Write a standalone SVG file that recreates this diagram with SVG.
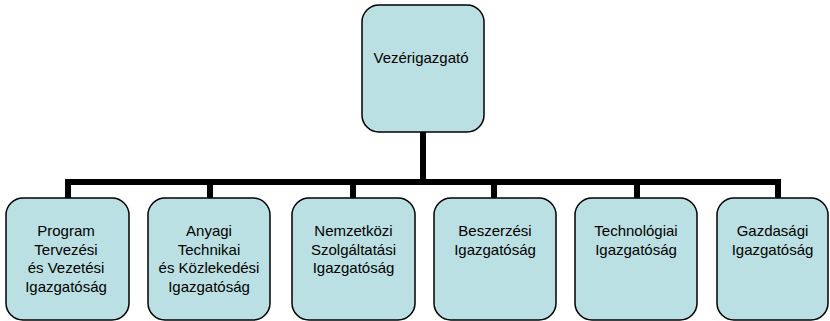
<svg xmlns="http://www.w3.org/2000/svg" width="830" height="321" viewBox="0 0 830 321">
<style>
.box{fill:#BBE0E3;stroke:#000;stroke-width:1.5}
.t{font-family:"Liberation Sans",Arial,sans-serif;font-size:15px;fill:#000;text-anchor:middle}
.c{fill:none;stroke:#000;stroke-width:6;stroke-linejoin:miter;stroke-linecap:butt}
</style>
<rect width="830" height="321" fill="#fff"/>
<g id="connectors">
<path class="c" d="M68,198 V182 H778 V198"/>
<path class="c" d="M423,132 V182"/>
<path class="c" d="M210,182 V198"/>
<path class="c" d="M353,182 V198"/>
<path class="c" d="M494,182 V198"/>
<path class="c" d="M637,182 V198"/>
</g>
<g id="n0">
<rect class="box" x="362" y="5" width="122" height="127" rx="17"/>
<text class="t" x="421" y="63">Vezérigazgató</text>
</g>
<g id="n1">
<rect class="box" x="6" y="198" width="123" height="122" rx="17"/>
<text class="t" x="66" y="236">Program<tspan x="66" dy="18.5">Tervezési</tspan><tspan x="66" dy="18.5">és Vezetési</tspan><tspan x="66" dy="18.5">Igazgatóság</tspan></text>
</g>
<g id="n2">
<rect class="box" x="148" y="198" width="122" height="122" rx="17"/>
<text class="t" x="209" y="236">Anyagi<tspan x="209" dy="18.5">Technikai</tspan><tspan x="209" dy="18.5">és Közlekedési</tspan><tspan x="209" dy="18.5">Igazgatóság</tspan></text>
</g>
<g id="n3">
<rect class="box" x="292" y="198" width="123" height="122" rx="17"/>
<text class="t" x="353.500" y="236">Nemzetközi<tspan x="353.500" dy="18.5">Szolgáltatási</tspan><tspan x="353.500" dy="18.5">Igazgatóság</tspan></text>
</g>
<g id="n4">
<rect class="box" x="434" y="198" width="122" height="122" rx="17"/>
<text class="t" x="495" y="236">Beszerzési<tspan x="495" dy="18.5">Igazgatóság</tspan></text>
</g>
<g id="n5">
<rect class="box" x="575" y="198" width="122" height="122" rx="17"/>
<text class="t" x="636" y="236">Technológiai<tspan x="636" dy="18.5">Igazgatóság</tspan></text>
</g>
<g id="n6">
<rect class="box" x="717" y="198" width="111" height="122" rx="17"/>
<text class="t" x="772.500" y="236">Gazdasági<tspan x="772.500" dy="18.5">Igazgatóság</tspan></text>
</g>
</svg>
